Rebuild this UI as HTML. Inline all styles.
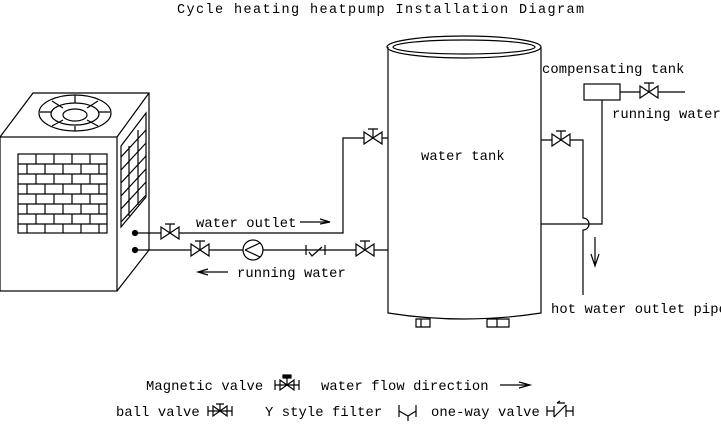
<!DOCTYPE html>
<html><head><style>
html,body{margin:0;padding:0;background:#fff}
svg{display:block}
text{font-family:"Liberation Mono",monospace;font-size:13.8px;letter-spacing:0.1px;fill:#000}
text.t{letter-spacing:1.4px;font-size:13.5px}
</style></head><body>
<svg width="721" height="425" viewBox="0 0 721 425" fill="none" stroke="#000" stroke-width="1.2">
<defs>
<g id="v"><path d="M-9,-6 L9,6 L9,-6 L-9,6 Z" fill="#fff"/><path d="M0,0 V-9 M-5,-9 H5"/></g>
</defs>
<text class="t" x="177" y="13" stroke="none">Cycle heating heatpump Installation Diagram</text>
<!-- unit -->
<rect x="0" y="137" width="117" height="154" fill="#fff"/>
<path d="M0,137 L33,93 H149 V250 L117,291 M117,137 L149,93"/>
<ellipse cx="75" cy="113" rx="36" ry="18"/>
<ellipse cx="75" cy="114" rx="24" ry="11"/>
<ellipse cx="75" cy="115" rx="12" ry="6"/>
<path d="M75,95 V103 M75,126 V131 M40,112 H51 M99,112 H110 M52,101 L63,108 M98,101 L87,108 M52,126 L63,120 M98,126 L87,120"/>
<rect x="18" y="154" width="89" height="79"/>
<path d="M18,164 H107 M18,174 H107 M18,184 H107 M18,194 H107 M18,204 H107 M18,214 H107 M18,224 H107"/>
<path d="M36,154v10M54,154v10M72,154v10M90,154v10 M27,164v10M45,164v10M63,164v10M81,164v10M99,164v10 M36,174v10M54,174v10M72,174v10M90,174v10 M27,184v10M45,184v10M63,184v10M81,184v10M99,184v10 M36,194v10M54,194v10M72,194v10M90,194v10 M27,204v10M45,204v10M63,204v10M81,204v10M99,204v10 M36,214v10M54,214v10M72,214v10M90,214v10 M27,224v9M45,224v9M63,224v9M81,224v9M99,224v9"/>
<path d="M121,146 L146,113 V197 L121,227 Z"/>
<path d="M121,157 L146,130 M121,170 L146,143 M121,183 L146,156 M121,196 L146,169 M121,209 L146,182 M121,222 L146,195 M129,146v70 M138,130v75"/>
<circle cx="135" cy="233" r="2.5" fill="#000"/><circle cx="135" cy="250" r="2.5" fill="#000"/>
<!-- pipes -->
<path d="M135,233 H343 V138 H388 M135,250 H388"/>
<use href="#v" x="170" y="233"/><use href="#v" x="200" y="250"/><use href="#v" x="365" y="250"/><use href="#v" x="373" y="138"/>
<circle cx="253" cy="250" r="10" fill="#fff"/><path d="M245,250 L260,243 M245,250 L260,257"/>
<path d="M306,245 V255 M325,245 V255 M309,252 L312,256 L322,247"/>
<text x="196" y="227" stroke="none">water outlet</text>
<path d="M300,222 H328 M320,219 L330,222 L320,224"/>
<path d="M200,272 H228 M208,269 L198,272 L208,275"/>
<text x="237" y="277" stroke="none">running water</text>
<!-- tank -->
<path d="M388,47 V313 Q464,325 541,313 V47"/>
<ellipse cx="464" cy="47" rx="77" ry="11"/>
<ellipse cx="464" cy="47" rx="71" ry="7"/>
<path d="M416,319 h14 v8 h-14 z M487,319 h22 v8 h-22 z M421,319v8 M497,319v8"/>
<text x="421" y="160" stroke="none">water tank</text>
<!-- right side -->
<path d="M541,140 H583 V218 A6,6 0 0 1 583,230 V295"/>
<use href="#v" x="561" y="140"/>
<path d="M541,224 H602 V100"/>
<rect x="584" y="84" width="36" height="16"/>
<path d="M620,92 H685"/><use href="#v" x="649" y="92"/>
<path d="M595,237 V266 M591,254 L595,266 L599,254"/>
<text x="542" y="73" stroke="none">compensating tank</text>
<text x="612" y="118" stroke="none">running water</text>
<text x="551" y="313" stroke="none">hot water outlet pipe</text>
<!-- legend -->
<text x="146" y="390" stroke="none">Magnetic valve</text>
<g transform="translate(287,385)"><path d="M-12,0 H12 M-12,-5 v10 M12,-5 v10"/><path d="M-7,-5 L7,5 L7,-5 L-7,5 Z"/><path d="M0,0 V-8"/><rect x="-4" y="-10" width="8" height="3" fill="#000"/></g>
<text x="321" y="390" stroke="none">water flow direction</text>
<path d="M500,385 H528 M519,382 L530,385 L519,388"/>
<text x="116" y="416" stroke="none">ball valve</text>
<g transform="translate(220,411)"><path d="M-12,0 H12 M-12,-5 v10 M12,-5 v10"/><path d="M-7,-5 L7,5 L7,-5 L-7,5 Z"/><path d="M0,0 V-7 M-4,-7 H4"/></g>
<text x="265" y="416" stroke="none">Y style filter</text>
<path d="M399,405 V417 M416,405 V417 M399,411 L408,416 V421 M408,416 L416,411"/>
<text x="431" y="416" stroke="none">one-way valve</text>
<g transform="translate(560,411)"><path d="M-13,0 H-6 M6,0 H13 M-13,-5 v10 M13,-5 v10 M-6,-5 V6 M6,-6 V6 M-6,6 L6,-6 M-3,-8 H5 M-3,-8 l3,-2"/></g>
</svg>
</body></html>
